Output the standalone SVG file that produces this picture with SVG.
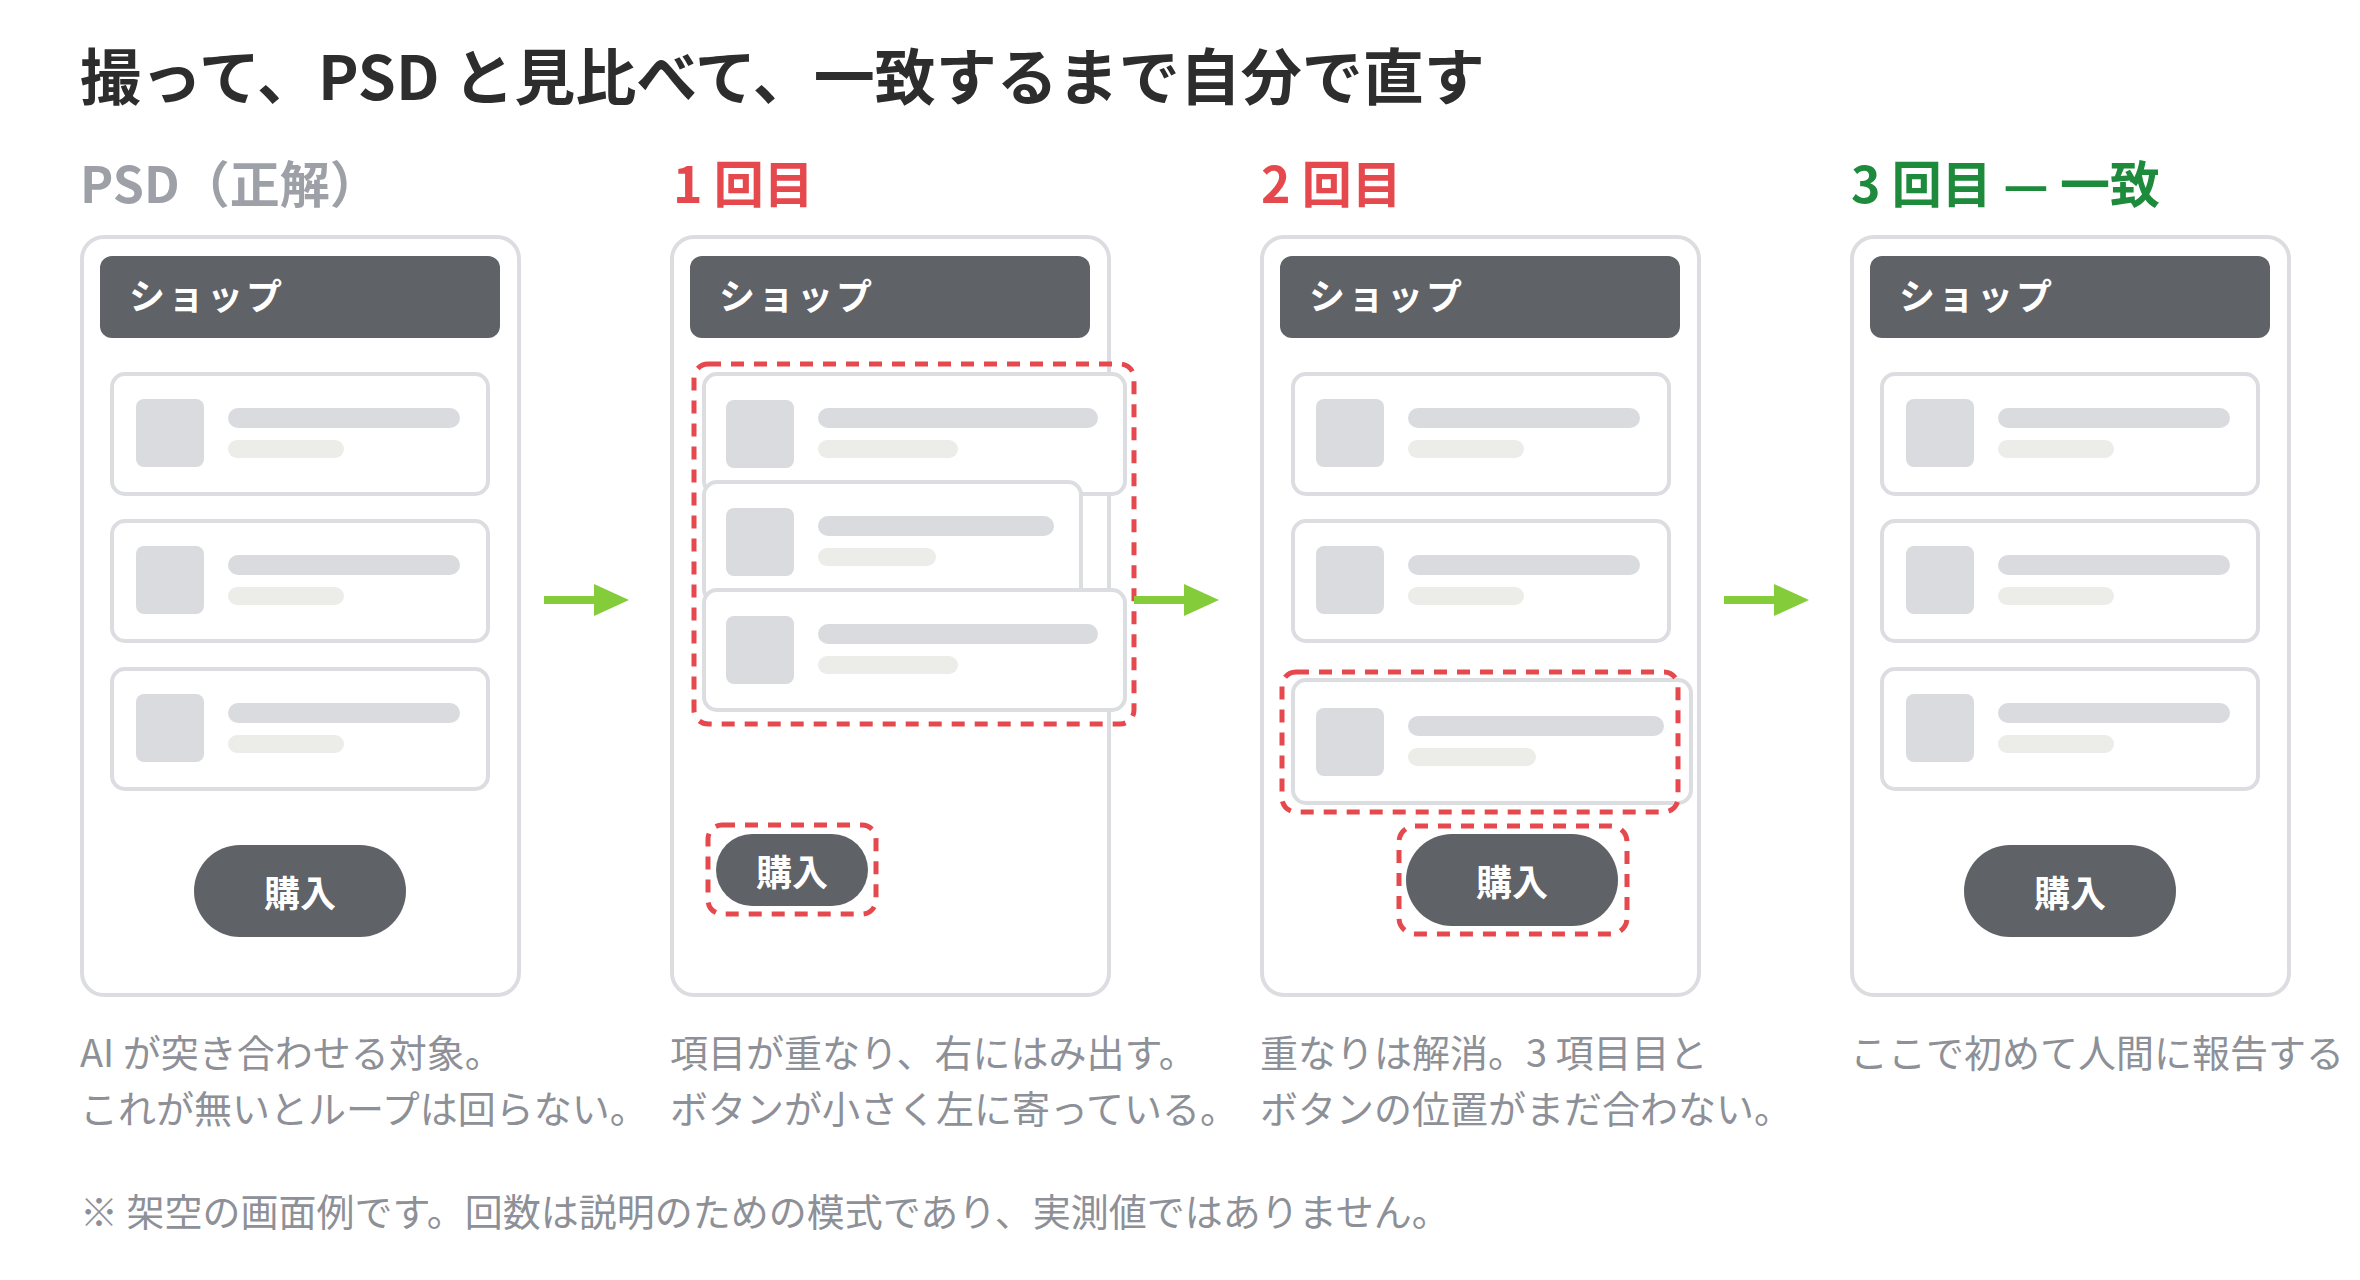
<svg xmlns="http://www.w3.org/2000/svg" width="2360" height="1280" viewBox="0 0 2360 1280">
<style>
text{font-family:"Noto Sans CJK JP","Noto Sans",sans-serif}
.title{font-size:61px;font-weight:700;fill:#2d2d2d}
.col{font-size:50px;font-weight:700}
.panel{fill:#fff;stroke:#dcdde1;stroke-width:4}
.bar{fill:#5f6267}
.bartxt{font-size:36px;font-weight:700;fill:#fff;letter-spacing:3px}
.item{fill:#fff;stroke:#dcdde1;stroke-width:4}
.thumb{fill:#dadbdf}
.l1{fill:#dadbdf}
.l2{fill:#ecece8}
.btn{fill:#5f6267}
.btntxt{font-size:36px;font-weight:700;fill:#fff;text-anchor:middle;dominant-baseline:central}
.dash{fill:none;stroke:#e5484d;stroke-width:5;stroke-dasharray:13 10}
.cap{font-size:38px;font-weight:400;fill:#8d9097}
.arrow{stroke:#84cc3a;stroke-width:8;fill:none}
.head{fill:#84cc3a}
</style>

<text class="title" x="80" y="100">撮って、PSD と見比べて、一致するまで自分で直す</text>

<text class="col" x="80" y="203" fill="#9da1a7">PSD（正解）</text>
<text class="col" x="673" y="203" fill="#e5484d">1 回目</text>
<text class="col" x="1261" y="203" fill="#e5484d">2 回目</text>
<text class="col" x="1851" y="203" fill="#1e8a3c">3 回目 — 一致</text>

<g id="panel-psd">
  <rect class="panel" x="82" y="237" width="437" height="758" rx="22"/>
  <rect class="bar" x="100" y="256" width="400" height="82" rx="12"/>
  <text class="bartxt" x="129" y="310">ショップ</text>
  <rect class="item" x="112" y="374" width="376" height="120" rx="13"/>
  <rect class="thumb" x="136" y="399" width="68" height="68" rx="8"/>
  <rect class="l1" x="228" y="408" width="232" height="20" rx="10"/>
  <rect class="l2" x="228" y="440" width="116" height="18" rx="9"/>
  <rect class="item" x="112" y="521" width="376" height="120" rx="13"/>
  <rect class="thumb" x="136" y="546" width="68" height="68" rx="8"/>
  <rect class="l1" x="228" y="555" width="232" height="20" rx="10"/>
  <rect class="l2" x="228" y="587" width="116" height="18" rx="9"/>
  <rect class="item" x="112" y="669" width="376" height="120" rx="13"/>
  <rect class="thumb" x="136" y="694" width="68" height="68" rx="8"/>
  <rect class="l1" x="228" y="703" width="232" height="20" rx="10"/>
  <rect class="l2" x="228" y="735" width="116" height="18" rx="9"/>
  <rect class="btn" x="194" y="845" width="212" height="92" rx="46"/>
  <text class="btntxt" x="300" y="891">購入</text>
</g>

<g id="panel-1">
  <rect class="panel" x="672" y="237" width="437" height="758" rx="22"/>
  <rect class="bar" x="690" y="256" width="400" height="82" rx="12"/>
  <text class="bartxt" x="719" y="310">ショップ</text>
  <rect class="item" x="704" y="374" width="421" height="120" rx="13"/>
  <rect class="thumb" x="726" y="400" width="68" height="68" rx="8"/>
  <rect class="l1" x="818" y="408" width="280" height="20" rx="10"/>
  <rect class="l2" x="818" y="440" width="140" height="18" rx="9"/>
  <rect class="item" x="704" y="482" width="377" height="120" rx="13"/>
  <rect class="thumb" x="726" y="508" width="68" height="68" rx="8"/>
  <rect class="l1" x="818" y="516" width="236" height="20" rx="10"/>
  <rect class="l2" x="818" y="548" width="118" height="18" rx="9"/>
  <rect class="item" x="704" y="590" width="421" height="120" rx="13"/>
  <rect class="thumb" x="726" y="616" width="68" height="68" rx="8"/>
  <rect class="l1" x="818" y="624" width="280" height="20" rx="10"/>
  <rect class="l2" x="818" y="656" width="140" height="18" rx="9"/>
  <rect class="dash" x="694" y="364" width="440" height="360" rx="14"/>
  <rect class="btn" x="716" y="834" width="152" height="72" rx="36"/>
  <text class="btntxt" x="792" y="870">購入</text>
  <rect class="dash" x="708" y="825" width="168" height="89" rx="14"/>
</g>

<g id="panel-2">
  <rect class="panel" x="1262" y="237" width="437" height="758" rx="22"/>
  <rect class="bar" x="1280" y="256" width="400" height="82" rx="12"/>
  <text class="bartxt" x="1309" y="310">ショップ</text>
  <rect class="item" x="1293" y="374" width="376" height="120" rx="13"/>
  <rect class="thumb" x="1316" y="399" width="68" height="68" rx="8"/>
  <rect class="l1" x="1408" y="408" width="232" height="20" rx="10"/>
  <rect class="l2" x="1408" y="440" width="116" height="18" rx="9"/>
  <rect class="item" x="1293" y="521" width="376" height="120" rx="13"/>
  <rect class="thumb" x="1316" y="546" width="68" height="68" rx="8"/>
  <rect class="l1" x="1408" y="555" width="232" height="20" rx="10"/>
  <rect class="l2" x="1408" y="587" width="116" height="18" rx="9"/>
  <rect class="item" x="1293" y="680" width="398" height="123" rx="13"/>
  <rect class="thumb" x="1316" y="708" width="68" height="68" rx="8"/>
  <rect class="l1" x="1408" y="716" width="256" height="20" rx="10"/>
  <rect class="l2" x="1408" y="748" width="128" height="18" rx="9"/>
  <rect class="dash" x="1282" y="672" width="396" height="140" rx="14"/>
  <rect class="btn" x="1406" y="834" width="212" height="92" rx="46"/>
  <text class="btntxt" x="1512" y="880">購入</text>
  <rect class="dash" x="1399" y="826" width="228" height="108" rx="16"/>
</g>

<g id="panel-3">
  <rect class="panel" x="1852" y="237" width="437" height="758" rx="22"/>
  <rect class="bar" x="1870" y="256" width="400" height="82" rx="12"/>
  <text class="bartxt" x="1899" y="310">ショップ</text>
  <rect class="item" x="1882" y="374" width="376" height="120" rx="13"/>
  <rect class="thumb" x="1906" y="399" width="68" height="68" rx="8"/>
  <rect class="l1" x="1998" y="408" width="232" height="20" rx="10"/>
  <rect class="l2" x="1998" y="440" width="116" height="18" rx="9"/>
  <rect class="item" x="1882" y="521" width="376" height="120" rx="13"/>
  <rect class="thumb" x="1906" y="546" width="68" height="68" rx="8"/>
  <rect class="l1" x="1998" y="555" width="232" height="20" rx="10"/>
  <rect class="l2" x="1998" y="587" width="116" height="18" rx="9"/>
  <rect class="item" x="1882" y="669" width="376" height="120" rx="13"/>
  <rect class="thumb" x="1906" y="694" width="68" height="68" rx="8"/>
  <rect class="l1" x="1998" y="703" width="232" height="20" rx="10"/>
  <rect class="l2" x="1998" y="735" width="116" height="18" rx="9"/>
  <rect class="btn" x="1964" y="845" width="212" height="92" rx="46"/>
  <text class="btntxt" x="2070" y="891">購入</text>
</g>

<g id="connectors">
  <line class="arrow" x1="544" y1="600" x2="600" y2="600"/>
  <polygon class="head" points="594,584 629,600 594,616"/>
  <line class="arrow" x1="1134" y1="600" x2="1190" y2="600"/>
  <polygon class="head" points="1184,584 1219,600 1184,616"/>
  <line class="arrow" x1="1724" y1="600" x2="1780" y2="600"/>
  <polygon class="head" points="1774,584 1809,600 1774,616"/>
</g>

<g id="captions">
  <text class="cap" x="80" y="1067">AI が突き合わせる対象。</text>
  <text class="cap" x="80" y="1123">これが無いとループは回らない。</text>
  <text class="cap" x="670" y="1067">項目が重なり、右にはみ出す。</text>
  <text class="cap" x="670" y="1123">ボタンが小さく左に寄っている。</text>
  <text class="cap" x="1260" y="1067">重なりは解消。3 項目目と</text>
  <text class="cap" x="1260" y="1123">ボタンの位置がまだ合わない。</text>
  <text class="cap" x="1850" y="1067">ここで初めて人間に報告する</text>
  <text class="cap" x="80" y="1226">※ 架空の画面例です。回数は説明のための模式であり、実測値ではありません。</text>
</g>
</svg>
